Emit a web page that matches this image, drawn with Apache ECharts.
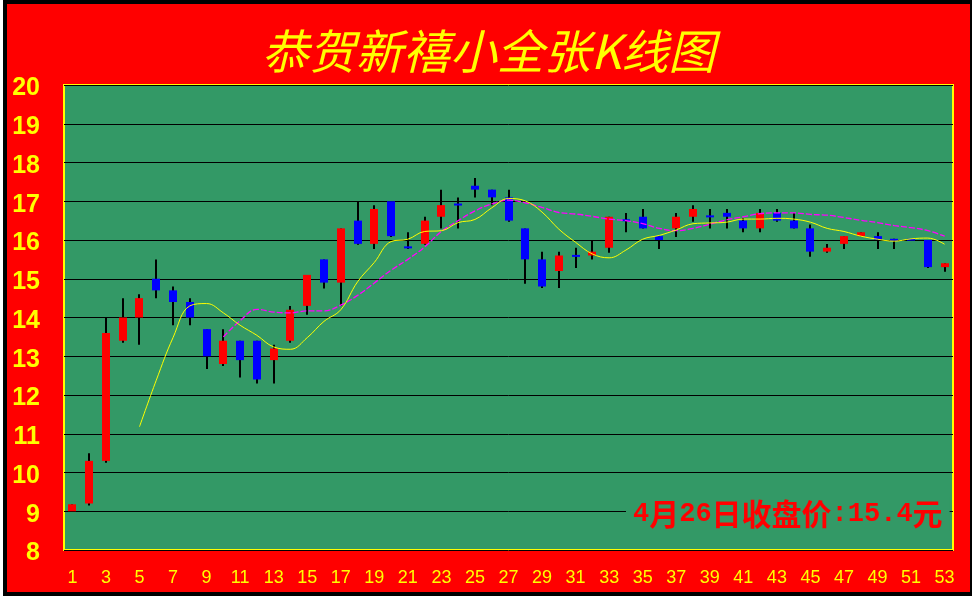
<!DOCTYPE html>
<html>
<head>
<meta charset="utf-8">
<script src="https://cdn.jsdelivr.net/npm/echarts@6/dist/echarts.min.js"></script>
<style>
html,body{margin:0;padding:0;background:#fff;width:977px;height:600px;overflow:hidden;}
#frame{position:absolute;left:3px;top:0;width:969px;height:596px;background:#000;}
#red{position:absolute;left:7px;top:4px;width:963px;height:588px;background:#ff0000;}
#chart{position:absolute;left:0;top:0;width:977px;height:600px;}
</style>
</head>
<body>
<div id="frame"></div>
<div id="red"></div>
<div id="chart"></div>
<script>
// ---- data ----
const categories = ['1','2','3','4','5','6','7','8','9','10','11','12','13','14','15','16','17','18','19','20',
  '21','22','23','24','25','26','27','28','29','30','31','32','33','34','35','36','37','38','39','40',
  '41','42','43','44','45','46','47','48','49','50','51','52','53'];
const opens  = [9.0,9.2,10.3,13.4,14.0,15.0,14.7,14.4,13.7,12.8,13.4,13.4,12.9,13.4,14.3,15.5,14.9,16.5,15.9,17.0,
  15.82,15.9,16.6,16.93,17.4,17.3,17.1,16.3,15.5,15.2,15.6,15.6,15.8,16.52,16.6,16.1,16.3,16.6,16.62,16.7,
  16.5,16.3,16.7,16.5,16.3,15.7,15.9,16.1,16.1,16.03,16.02,16.0,15.3];
const closes = [9.18,10.3,13.6,14.0,14.5,14.7,14.4,14.0,13.0,13.4,12.9,12.4,13.2,14.2,15.1,14.9,16.3,15.9,16.8,16.1,
  15.8,16.5,16.9,16.9,17.3,17.1,16.5,15.5,14.8,15.6,15.58,15.7,16.6,16.5,16.3,16.0,16.6,16.8,16.6,16.6,
  16.3,16.7,16.5,16.3,15.7,15.8,16.1,16.2,16.0,15.98,16.0,15.3,15.4];
const lows   = [9.0,9.15,10.25,13.35,13.3,14.5,13.8,13.8,12.67,12.75,12.45,12.3,12.3,13.35,14.07,14.75,14.3,15.88,15.77,16.08,
  15.77,15.88,16.3,16.3,17.1,16.9,16.47,14.87,14.76,14.76,15.28,15.5,15.67,16.2,16.3,15.77,16.08,16.47,16.3,16.3,
  16.2,16.2,16.47,16.3,15.57,15.67,15.77,16.1,15.77,15.77,16.0,15.28,15.18];
const highs  = [9.18,10.5,14.0,14.5,14.6,15.5,14.8,14.5,13.7,13.7,13.4,13.4,13.3,14.3,15.1,15.5,16.3,17.0,16.9,17.0,
  16.2,16.6,17.3,17.1,17.6,17.3,17.3,16.3,15.7,15.7,15.8,16.0,16.6,16.7,16.8,16.1,16.7,16.9,16.8,16.8,
  16.57,16.8,16.8,16.7,16.4,15.9,16.1,16.2,16.2,16.03,16.02,16.0,15.4];
const maYellow = [null,null,null,null,11.18,12.38,13.48,14.30,14.36,14.12,13.80,13.54,13.24,13.18,13.48,13.90,14.20,14.92,15.42,15.96,
  16.02,16.22,16.24,16.45,16.53,16.83,17.07,17.01,16.72,16.28,15.94,15.64,15.54,15.74,16.02,16.12,16.26,16.42,16.44,16.46,
  16.54,16.54,16.56,16.54,16.46,16.30,16.22,16.10,16.02,15.97,16.03,16.05,15.89];
const maMagenta = [null,null,null,null,null,null,null,null,null,13.50,13.92,14.21,14.14,14.12,14.17,14.17,14.32,14.57,14.89,15.22,
  15.50,15.82,16.22,16.50,16.75,16.93,17.03,16.96,16.84,16.71,16.67,16.61,16.54,16.50,16.42,16.30,16.24,16.30,16.41,16.52,
  16.60,16.68,16.70,16.70,16.66,16.64,16.58,16.51,16.45,16.37,16.32,16.24,16.10];
const yTicks = {min: 8, max: 20, step: 1};
const titleText = '恭贺新禧小全张K线图';
const noteParts = ['4','月','26','日收盘价',':15.4','元'];

// ---- chart ----
const candleData = categories.map((c, i) => [i, opens[i], closes[i], lows[i], highs[i]]);

function renderCandle(params, api) {
  const x = api.value(0);
  const o = api.value(1), c = api.value(2), l = api.value(3), h = api.value(4);
  const pO = api.coord([x, o]), pC = api.coord([x, c]);
  const pL = api.coord([x, l]), pH = api.coord([x, h]);
  const bw = 8;
  let top = Math.min(pO[1], pC[1]), bot = Math.max(pO[1], pC[1]);
  if (bot - top < 2) { const m = (top + bot) / 2; top = m - 1; bot = m + 1; }
  const cx = Math.round(pO[0]);
  return {
    type: 'group',
    children: [
      {type: 'rect', shape: {x: cx - 1, y: pH[1], width: 2, height: Math.max(0, pL[1] - pH[1])}, style: {fill: '#000'}},
      {type: 'rect', shape: {x: cx - bw / 2, y: top, width: bw, height: bot - top}, style: {fill: c >= o ? '#ff0000' : '#0000ff'}}
    ]
  };
}

const chart = echarts.init(document.getElementById('chart'), null, {renderer: 'canvas'});
chart.setOption({
  backgroundColor: 'transparent',
  animation: false,
  title: [{
    text: titleText,
    left: 'center',
    top: 23,
    textStyle: {color: '#ffff00', fontSize: 47, fontStyle: 'italic', fontWeight: 'normal',
      fontFamily: '"Noto Sans CJK SC", sans-serif'}
  }, {
    text: '{a|' + noteParts[0] + '}{c|' + noteParts[1] + '}{a|' + noteParts[2] + '}{c|' + noteParts[3] + '}{a|' + noteParts[4] + '}{c|' + noteParts[5] + '}',
    left: 626,
    top: 497,
    backgroundColor: '#339966',
    padding: [2, 7, 2, 7],
    textStyle: {
      rich: {
        a: {color: '#ff0000', fontSize: 27, fontWeight: 'bold', fontFamily: '"Liberation Mono", "DejaVu Sans Mono", monospace'},
        c: {color: '#ff0000', fontSize: 30, fontWeight: 'bold', fontFamily: '"Noto Sans CJK SC", sans-serif'}
      }
    }
  }],
  grid: {
    left: 64, right: 24, top: 85, bottom: 50,
    show: true, backgroundColor: '#339966', borderColor: '#ffff00', borderWidth: 2,
    containLabel: false
  },
  xAxis: {
    type: 'category',
    data: categories,
    boundaryGap: true,
    axisLine: {show: false},
    axisTick: {show: false},
    splitLine: {show: false},
    axisLabel: {interval: 1, color: '#ffff00', fontSize: 18, margin: 19,
      fontFamily: '"Liberation Sans", Arial, sans-serif'}
  },
  yAxis: {
    type: 'value',
    min: yTicks.min, max: yTicks.max, interval: yTicks.step,
    axisLine: {show: false},
    axisTick: {show: false},
    splitLine: {show: true, lineStyle: {color: '#000000', width: 1}},
    axisLabel: {
      margin: 24,
      formatter: v => '{v|' + v + '}',
      rich: {v: {color: '#ffff00', fontSize: 25, fontWeight: 'bold', lineHeight: 25, padding: [7, 0, 0, 0],
        fontFamily: '"Liberation Sans", Arial, sans-serif'}}
    }
  },
  series: [{
    type: 'custom',
    renderItem: renderCandle,
    data: candleData,
    encode: {x: 0, y: [1, 2, 3, 4]},
    z: 2
  }, {
    type: 'line',
    data: maMagenta,
    smooth: 0.4,
    symbol: 'none',
    lineStyle: {color: '#ff00ff', width: 1.3, type: [6, 2]},
    z: 3
  }, {
    type: 'line',
    data: maYellow,
    smooth: 0.4,
    symbol: 'none',
    lineStyle: {color: '#ffff00', width: 1},
    z: 4
  }]
});
</script>
</body>
</html>
